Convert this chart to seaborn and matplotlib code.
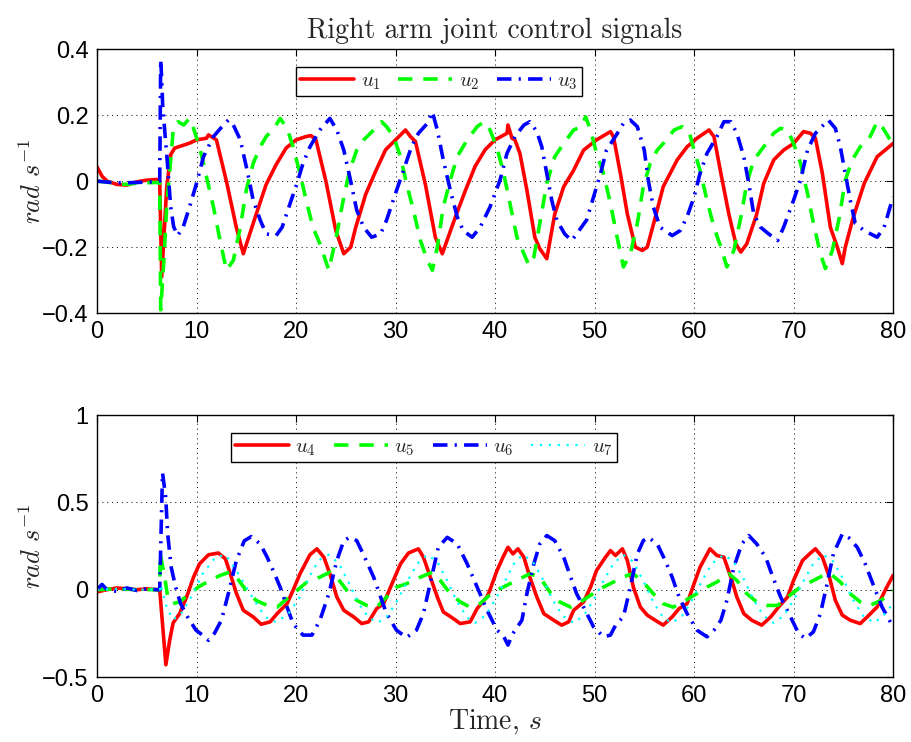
import matplotlib
matplotlib.use("Agg")
import matplotlib.pyplot as plt
from matplotlib.ticker import FuncFormatter
import seaborn as sns

# ---------------- data: right arm joint control signals ----------------
t_u1 = [0, 0.5, 1, 2, 3, 4, 5, 6, 6.3, 6.5, 7.0, 7.4, 7.8, 9.3, 10, 11.0, 11.2, 12, 13, 14,
        14.7, 16, 17, 18, 19, 20, 21, 21.5, 22, 23, 24, 24.8, 25.5, 26, 27, 28, 29, 30, 31,
        31.5, 32, 33, 34, 34.7, 36, 37, 38, 39, 40, 41.2, 41.3, 41.7, 42, 42.5, 43.2, 44,
        44.5, 45.2, 46, 46.9, 47.9, 48.9, 50.2, 51.6, 51.9, 52.6, 53.3, 54.1, 54.8, 55.3,
        56.1, 56.9, 58.3, 59.3, 60.3, 61.5, 62, 62.7, 63.5, 64.2, 64.7, 65.3, 66.3, 67, 68,
        69, 70, 71, 71.7, 72.2, 72.9, 73.7, 74.4, 74.9, 75.2, 76, 77.1, 78.4, 80]
u1 = [0.043, 0.015, 0.0, -0.01, -0.012, -0.002, 0.003, 0.005, 0.0, -0.29, -0.02, 0.08, 0.1,
      0.115, 0.125, 0.13, 0.14, 0.125, 0.0, -0.14, -0.22, -0.1, -0.01, 0.05, 0.10, 0.125,
      0.135, 0.138, 0.125, 0.0, -0.15, -0.22, -0.2, -0.14, -0.04, 0.03, 0.095, 0.125, 0.155,
      0.135, 0.12, -0.01, -0.17, -0.22, -0.11, -0.03, 0.045, 0.095, 0.125, 0.145, 0.17, 0.13,
      0.125, 0.084, -0.027, -0.17, -0.205, -0.235, -0.1, -0.017, 0.033, 0.094, 0.125, 0.15,
      0.135, 0.023, -0.1, -0.2, -0.21, -0.2, -0.11, -0.017, 0.064, 0.104, 0.13, 0.155, 0.135,
      0.023, -0.1, -0.19, -0.215, -0.19, -0.1, -0.007, 0.064, 0.094, 0.114, 0.15, 0.145,
      0.13, 0.023, -0.14, -0.2, -0.25, -0.2, -0.11, -0.007, 0.074, 0.114]

t_u2 = [0, 1, 2, 3, 4, 5, 6, 6.3, 6.4, 6.7, 7.0, 7.66, 8.15, 8.7, 9.3, 9.7, 10.3, 11, 11.7,
        12.3, 13, 13.7, 14.4, 15, 15.7, 16.4, 17, 17.9, 18.4, 19.1, 19.7, 20.4, 21.1, 21.7,
        22.4, 23.3, 24.1, 24.8, 25.4, 26.1, 26.8, 27.8, 28.6, 29.1, 29.8, 30.5, 31.1, 31.8,
        32.5, 33.2, 33.7, 34.2, 34.8, 35.5, 36.2, 37.2, 38.2, 38.9, 39.5, 40.2, 40.8, 41.5,
        42.2, 42.9, 43.4, 43.9, 44.5, 45.2, 46, 46.9, 47.9, 48.7, 49.1, 49.6, 50.2, 50.9,
        51.6, 52.2, 52.9, 53.6, 54.3, 54.9, 55.6, 56.3, 56.9, 58, 58.8, 59.5, 60, 60.6, 61.3,
        62, 62.7, 63.3, 64, 64.7, 65.3, 66, 67, 68, 68.7, 69.4, 70, 70.7, 71.4, 72, 72.7,
        73.2, 73.9, 74.6, 75.2, 75.9, 76.7, 77.7, 78.4, 79, 79.7, 80]
u2 = [0.0, -0.003, -0.008, -0.01, -0.006, -0.005, -0.004, -0.005, -0.39, -0.25, -0.078,
      0.155, 0.18, 0.17, 0.19, 0.16, 0.104, 0.013, -0.078, -0.17, -0.27, -0.24, -0.14,
      -0.027, 0.054, 0.104, 0.135, 0.165, 0.19, 0.16, 0.104, 0.023, -0.068, -0.14, -0.19,
      -0.27, -0.16, -0.048, 0.033, 0.094, 0.125, 0.155, 0.18, 0.165, 0.135, 0.074, -0.007,
      -0.088, -0.18, -0.24, -0.27, -0.2, -0.078, 0.003, 0.074, 0.125, 0.165, 0.18, 0.155,
      0.1, 0.033, -0.068, -0.17, -0.22, -0.255, -0.23, -0.128, -0.007, 0.074, 0.114, 0.155,
      0.165, 0.195, 0.155, 0.084, 0.023, -0.068, -0.16, -0.26, -0.22, -0.128, -0.017, 0.054,
      0.094, 0.114, 0.155, 0.165, 0.15, 0.094, 0.033, -0.058, -0.14, -0.2, -0.26, -0.21,
      -0.11, -0.007, 0.064, 0.104, 0.145, 0.16, 0.155, 0.114, 0.054, -0.037, -0.128, -0.22,
      -0.265, -0.21, -0.11, 0.003, 0.064, 0.104, 0.135, 0.18, 0.16, 0.125, 0.125]

t_u3 = [0, 1, 2, 3, 4, 5, 6, 6.3, 6.4, 6.5, 6.6, 6.85, 7.1, 7.4, 7.7, 8.1, 8.65, 9.3, 10,
        10.7, 11.7, 12.7, 13.2, 13.7, 14.4, 15, 15.7, 16.4, 17, 18, 18.6, 19.4, 20.1, 20.7,
        21.4, 22.4, 23.4, 24.1, 24.8, 25.4, 26.1, 26.8, 27.6, 28.5, 29.1, 30, 30.8, 31.6,
        32.3, 33.2, 33.7, 34.2, 34.8, 35.5, 36.2, 36.8, 37.7, 38.5, 39.5, 40.5, 41.2, 42,
        42.9, 43.5, 44.2, 44.7, 45.2, 45.7, 46.2, 47, 47.7, 48.2, 49.2, 49.9, 50.6, 51.2,
        52.2, 52.9, 53.6, 54.3, 55, 55.4, 55.9, 56.6, 57.8, 58.6, 59.3, 60, 60.6, 61.3, 62.3,
        63, 63.7, 64.3, 65, 65.5, 66, 66.7, 67.5, 68.4, 69, 70, 70.7, 71.4, 72.2, 73, 73.5,
        74.2, 74.7, 75.2, 75.7, 76.2, 77.1, 78.4, 79.1, 80]
u3 = [0.0, -0.003, -0.005, -0.005, -0.004, -0.003, -0.002, 0.0, 0.368, 0.31, 0.227, 0.136,
      0.045, -0.077, -0.138, -0.165, -0.14, -0.078, -0.007, 0.074, 0.135, 0.17, 0.185, 0.17,
      0.125, 0.044, -0.058, -0.118, -0.16, -0.165, -0.14, -0.068, -0.007, 0.054, 0.104,
      0.155, 0.19, 0.155, 0.094, 0.013, -0.088, -0.14, -0.17, -0.16, -0.118, -0.037, 0.033,
      0.104, 0.145, 0.175, 0.21, 0.155, 0.064, -0.027, -0.108, -0.15, -0.17, -0.14, -0.078,
      0.003, 0.084, 0.135, 0.17, 0.18, 0.15, 0.104, 0.023, -0.058, -0.118, -0.16, -0.18,
      -0.16, -0.118, -0.048, 0.023, 0.094, 0.14, 0.175, 0.185, 0.165, 0.094, 0.003, -0.078,
      -0.14, -0.165, -0.15, -0.108, -0.048, 0.023, 0.084, 0.135, 0.18, 0.18, 0.145, 0.074,
      -0.007, -0.1, -0.14, -0.16, -0.18, -0.14, -0.058, 0.003, 0.094, 0.145, 0.17, 0.185,
      0.16, 0.104, 0.023, -0.058, -0.128, -0.15, -0.17, -0.14, -0.048]

t_u4 = [0, 1, 2, 3, 4, 5, 6, 6.3, 6.92, 7.3, 7.65, 8.3, 9, 9.7, 10.3, 11.2, 12.2, 12.9, 13.4,
        14, 14.7, 15.7, 16.5, 17.4, 18.1, 19.1, 19.7, 20.4, 21.4, 22.1, 22.8, 23.4, 24.1,
        24.8, 25.8, 26.6, 27.3, 28.1, 28.8, 29.5, 30.5, 31.3, 32.3, 32.8, 33.5, 34.2, 34.8,
        35.8, 36.5, 37.5, 38.2, 39.2, 39.5, 40.2, 40.8, 41.3, 41.8, 42.3, 42.9, 43.5, 44.2,
        44.9, 45.9, 46.7, 47.4, 47.9, 48.9, 49.6, 50.2, 51.1, 51.6, 52.1, 52.8, 53.3, 53.9,
        54.6, 55.3, 56.1, 56.9, 57.8, 58.5, 59.3, 60, 60.6, 61.6, 62.3, 63, 63.7, 64.3, 65,
        65.8, 66.8, 67.7, 68.5, 69.4, 70, 70.9, 71.7, 72.2, 72.9, 73.6, 74.2, 74.9, 75.7,
        76.7, 77.4, 78.4, 79.2, 80]
u4 = [-0.013, 0.0, 0.01, 0.005, 0.0, 0.005, 0.0, 0.0, -0.43, -0.29, -0.19, -0.137, -0.042,
      0.072, 0.148, 0.2, 0.21, 0.177, 0.091, -0.02, -0.118, -0.156, -0.198, -0.184, -0.137,
      -0.08, -0.004, 0.091, 0.2, 0.234, 0.186, 0.091, -0.042, -0.118, -0.156, -0.194,
      -0.184, -0.108, -0.08, 0.015, 0.148, 0.21, 0.234, 0.186, 0.072, -0.042, -0.127,
      -0.165, -0.194, -0.184, -0.108, -0.04, 0.0, 0.11, 0.186, 0.243, 0.205, 0.234, 0.186,
      0.072, -0.042, -0.137, -0.175, -0.203, -0.184, -0.118, -0.07, 0.015, 0.11, 0.186,
      0.224, 0.196, 0.234, 0.167, 0.015, -0.099, -0.146, -0.175, -0.203, -0.156, -0.108,
      -0.08, 0.034, 0.129, 0.234, 0.196, 0.186, 0.072, -0.042, -0.137, -0.175, -0.203,
      -0.156, -0.099, -0.042, 0.053, 0.167, 0.21, 0.234, 0.186, 0.072, -0.061, -0.146,
      -0.175, -0.194, -0.156, -0.099, -0.004, 0.082]

t_u5 = [0, 2, 4, 6, 6.3, 6.35, 6.85, 7.1, 7.6, 8.3, 9.3, 10.3, 11.3, 12.3, 13.3, 14, 15, 16,
        17.1, 18.1, 19.1, 20.1, 21.1, 22.4, 23.4, 24.1, 25.1, 26.1, 27.1, 28.1, 29.1, 30.1,
        31.1, 32.5, 33.7, 34.5, 35.5, 36.5, 37.5, 38.5, 39.5, 40.5, 41.5, 42.5, 43.5, 44.5,
        45.5, 46.5, 47.6, 48.6, 49.6, 50.6, 51.9, 53.3, 53.9, 54.9, 55.9, 56.9, 57.9, 58.9,
        60, 61.3, 62.3, 63.5, 64.3, 65.3, 66.3, 67.3, 68.4, 69.4, 70.7, 72, 73, 73.7, 74.7,
        75.7, 76.7, 77.7, 78.8, 80]
u5 = [0.0, 0.005, 0.0, 0.0, 0.0, 0.207, 0.053, -0.04, -0.08, -0.07, -0.023, 0.02, 0.05,
      0.08, 0.1, 0.072, -0.005, -0.062, -0.09, -0.1, -0.051, -0.004, 0.044, 0.072, 0.1,
      0.072, -0.004, -0.061, -0.09, -0.1, -0.042, 0.015, 0.034, 0.072, 0.1, 0.053, -0.023,
      -0.07, -0.1, -0.08, -0.028, 0.006, 0.034, 0.063, 0.091, 0.072, -0.013, -0.07, -0.1,
      -0.07, -0.032, 0.006, 0.044, 0.082, 0.091, 0.044, -0.023, -0.08, -0.1, -0.07, -0.032,
      0.015, 0.044, 0.091, 0.053, -0.023, -0.07, -0.09, -0.09, -0.042, 0.015, 0.053, 0.082,
      0.091, 0.044, -0.023, -0.07, -0.09, -0.061, -0.004]

t_u6 = [0, 0.5, 1, 2, 3, 4, 5, 6, 6.3, 6.58, 6.9, 7.1, 7.45, 7.9, 8.4, 9.1, 9.95, 10.6, 11.2,
        11.8, 12.5, 13.3, 14, 14.8, 15.5, 16.4, 17.1, 17.7, 18.4, 19.1, 19.7, 20.7, 21.6,
        22.4, 23.3, 24.1, 24.8, 25.4, 26.1, 26.9, 27.8, 28.5, 29.1, 30.1, 31.1, 32.1, 32.8,
        33.7, 34.3, 35.2, 36.2, 37.2, 38.2, 39.2, 40.2, 40.8, 41.3, 41.8, 42.7, 43.2, 43.9,
        44.5, 45.2, 46, 46.9, 47.6, 48.2, 48.9, 49.9, 50.9, 51.6, 52.2, 52.9, 53.6, 54.3,
        54.9, 55.4, 56.3, 57.1, 57.8, 58.5, 59.3, 60.3, 61.3, 62, 62.7, 63.3, 64, 64.8, 65.5,
        66.3, 67.2, 67.8, 68.7, 69.7, 70.5, 71.2, 72, 72.7, 73.3, 74, 74.9, 75.5, 76.4, 77.2,
        78.1, 78.9, 80]
u6 = [0.0, 0.03, 0.0, -0.01, 0.01, -0.005, 0.005, 0.0, 0.0, 0.67, 0.53, 0.32, 0.13, 0.015,
      -0.08, -0.156, -0.232, -0.26, -0.29, -0.25, -0.175, 0.0, 0.167, 0.28, 0.304, 0.262,
      0.186, 0.11, 0.015, -0.1, -0.194, -0.26, -0.26, -0.175, -0.023, 0.167, 0.281, 0.3,
      0.281, 0.186, 0.072, -0.042, -0.137, -0.232, -0.274, -0.232, -0.137, 0.091, 0.243,
      0.3, 0.262, 0.148, 0.015, -0.118, -0.232, -0.26, -0.317, -0.25, -0.175, -0.023, 0.148,
      0.262, 0.31, 0.281, 0.186, 0.072, -0.023, -0.1, -0.213, -0.27, -0.26, -0.194, -0.156,
      0.015, 0.205, 0.281, 0.3, 0.262, 0.167, 0.072, -0.042, -0.137, -0.232, -0.27, -0.232,
      -0.175, -0.061, 0.129, 0.262, 0.31, 0.262, 0.186, 0.091, -0.042, -0.156, -0.25, -0.28,
      -0.241, -0.137, 0.015, 0.205, 0.319, 0.3, 0.243, 0.148, 0.015, -0.1, -0.213]

t_u7 = [0, 2, 4, 6, 6.3, 6.4, 7.0, 7.6, 8.3, 9.3, 10.6, 11.9, 12.9, 14, 15, 16.3, 17.2, 18,
        19.2, 20.3, 21.3, 22.3, 23.3, 24.3, 25.3, 26.3, 27.3, 28.2, 29.2, 30.2, 31.2, 32.2,
        33.2, 34.2, 35.2, 36.2, 37.2, 38, 39, 40, 41, 42, 42.8, 43.8, 44.8, 45.8, 46.8, 47.9,
        48.9, 49.9, 50.9, 51.9, 52.9, 53.9, 54.9, 55.9, 56.9, 57.8, 58.8, 59.8, 60.8, 61.8,
        63, 64, 65, 66, 67, 68, 69, 70, 71, 72, 73, 74, 75, 76, 77, 78.1, 79, 80]
u7 = [0.0, 0.005, 0.0, 0.0, 0.0, 0.03, -0.1, -0.17, -0.15, -0.06, 0.09, 0.186, 0.2, 0.11,
      0.015, -0.107, -0.17, -0.185, -0.14, -0.05, 0.07, 0.17, 0.2, 0.15, 0.04, -0.08, -0.16,
      -0.19, -0.15, -0.06, 0.05, 0.15, 0.2, 0.16, 0.05, -0.07, -0.16, -0.19, -0.15, -0.06,
      0.05, 0.16, 0.2, 0.16, 0.06, -0.06, -0.15, -0.19, -0.15, -0.06, 0.05, 0.15, 0.2, 0.16,
      0.05, -0.07, -0.16, -0.19, -0.15, -0.06, 0.05, 0.15, 0.2, 0.16, 0.06, -0.06, -0.15,
      -0.19, -0.15, -0.06, 0.05, 0.15, 0.2, 0.16, 0.06, -0.06, -0.15, -0.19, -0.15, -0.08]

x_ticks = [0, 10, 20, 30, 40, 50, 60, 70, 80]
top_yticks = [-0.4, -0.2, 0, 0.2, 0.4]
bottom_yticks = [-0.5, 0, 0.5, 1]

# ---------------- styling ----------------
sns.set_style("white")
plt.rcParams["font.family"] = ["Liberation Sans", "DejaVu Sans"]
plt.rcParams["mathtext.fontset"] = "cm"
plt.rcParams["axes.unicode_minus"] = True

RED, GREEN, BLUE, CYAN = "#ff0000", "#00ff00", "#0000ff", "#00ffff"
LW = 2.6
solid = "-"
dashed = (0, (4, 3))
dashdot = (0, (4, 2, 0.6, 2))
dotted = (0, (1, 3))

fig = plt.figure(figsize=(9.11, 7.42), dpi=100)
ax1 = fig.add_axes([0.1065, 0.578, 0.8738, 0.3558])
ax2 = fig.add_axes([0.1065, 0.0876, 0.8738, 0.353])

series_top = [(t_u1, u1, RED, solid, LW, r"$u_1$"),
              (t_u2, u2, GREEN, dashed, LW, r"$u_2$"),
              (t_u3, u3, BLUE, dashdot, LW, r"$u_3$")]
series_bottom = [(t_u4, u4, RED, solid, LW, r"$u_4$"),
                 (t_u5, u5, GREEN, dashed, LW, r"$u_5$"),
                 (t_u6, u6, BLUE, dashdot, LW, r"$u_6$"),
                 (t_u7, u7, CYAN, dotted, 1.6, r"$u_7$")]

for ax, series in ((ax1, series_top), (ax2, series_bottom)):
    for t, u, color, ls, lw, lab in series:
        sns.lineplot(x=t, y=u, ax=ax, color=color, linewidth=lw, label=lab,
                     estimator=None, sort=False)
        ax.lines[-1].set_linestyle(ls)

ax1.set_ylim(-0.4, 0.4)
ax1.set_yticks(top_yticks)
ax2.set_ylim(-0.5, 1.0)
ax2.set_yticks(bottom_yticks)

fmt = FuncFormatter(lambda v, p: f"{v:g}".replace("-", "\u2212"))
for ax in (ax1, ax2):
    ax.set_xlim(0, 80)
    ax.set_xticks(x_ticks)
    ax.xaxis.set_major_formatter(fmt)
    ax.yaxis.set_major_formatter(fmt)
    ax.grid(True, color="k", linestyle=(0, (1, 4)), linewidth=0.7)
    ax.tick_params(direction="in", top=True, right=True, length=5, width=0.8,
                   labelsize=17, colors="k", pad=6)
    for sp in ax.spines.values():
        sp.set_color("k")
        sp.set_linewidth(1.0)
    ax.set_xlabel("")
    ax.set_ylabel(r"$rad\ s^{-1}$", fontsize=19)
    ax.yaxis.set_label_coords(-0.064, 0.5)

leg_kw = dict(loc="upper left", frameon=True, fancybox=False, edgecolor="k",
              framealpha=1, handlelength=2.6, columnspacing=0.85, handletextpad=0.3,
              borderpad=0.2, borderaxespad=0, fontsize=15)
leg1 = ax1.legend(ncol=3, bbox_to_anchor=(0.25, 0.932), **leg_kw)
leg2 = ax2.legend(ncol=4, bbox_to_anchor=(0.168, 0.932), **leg_kw)
for leg in (leg1, leg2):
    leg.get_frame().set_linewidth(1.0)

ax1.set_title("Right arm joint control signals", fontfamily="cmr10", fontsize=20, pad=8)
ax2.set_xlabel(r"Time, $s$", fontfamily="cmr10", fontsize=20, labelpad=0)

fig.savefig("out.png", dpi=100)
